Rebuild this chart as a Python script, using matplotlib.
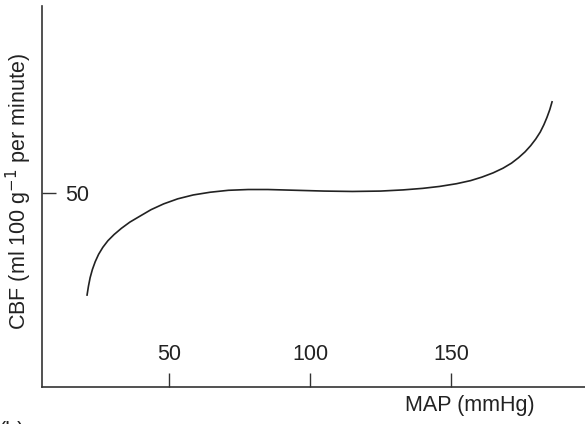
import numpy as np
import matplotlib
matplotlib.use("Agg")
import matplotlib.pyplot as plt

plt.rcParams['font.family'] = ['Liberation Sans', 'DejaVu Sans']

# === Curve (MAP in mmHg, CBF in ml/100 g/min) ===
map_mmhg = [20.8, 21.3, 21.9, 22.7, 23.7, 24.9, 26.4, 28.2, 30.4, 33.0,
            36.0, 39.5, 43.5, 48.0, 53.0, 58.5, 64.5, 71.0, 78.0, 85.0,
            95.0, 105.0, 115.0, 125.0, 133.0, 140.0, 146.0, 152.0, 157.0, 161.0,
            165.0, 168.5, 171.5, 174.0, 176.3, 178.3, 180.1, 181.7, 183.0, 184.1,
            185.1, 185.9]
cbf = [23.7, 26.0, 28.2, 30.3, 32.3, 34.2, 36.0, 37.7, 39.3, 40.9,
       42.5, 44.0, 45.7, 47.2, 48.5, 49.5, 50.2, 50.7, 50.9, 50.9,
       50.7, 50.5, 50.4, 50.5, 50.8, 51.2, 51.7, 52.4, 53.2, 54.1,
       55.2, 56.4, 57.7, 59.1, 60.6, 62.2, 63.9, 65.7, 67.6, 69.5,
       71.5, 73.5]

x_ticks = [50, 100, 150]
y_ticks = [50]

ink = '#222222'

# === Figure ===
fig = plt.figure(figsize=(5.85, 4.24), dpi=100)
ax = fig.add_axes([0.0713, 0.0873, 0.9287, 0.8985])

ax.plot(map_mmhg, cbf, color=ink, lw=1.2, solid_joinstyle='round')

ax.set_xlim(4.7, 197.6)
ax.set_ylim(0, 98.2)

for side in ['top', 'right']:
    ax.spines[side].set_visible(False)
for side in ['left', 'bottom']:
    ax.spines[side].set_color('#333333')
    ax.spines[side].set_linewidth(1.2)

ax.set_xticks(x_ticks)
ax.set_yticks(y_ticks)
ax.tick_params(axis='x', direction='in', length=10, width=1.0, colors='#333333',
               labelcolor=ink, labelsize=15.5, pad=-31)
ax.tick_params(axis='y', direction='in', length=10, width=1.0, colors='#333333',
               labelcolor=ink, labelsize=15.5, pad=-34)

# === Labels ===
fig.text(469.5 / 585, 1 - 406 / 424, 'MAP (mmHg)', ha='center', va='center',
         fontsize=15.5, color=ink)
fig.text(19 / 585, 1 - 192 / 424, 'CBF (ml 100 g$^{-1}$ per minute)', rotation=90,
         ha='center', va='center', fontsize=15.5, color=ink)
fig.text(-0.002, 1 - 421 / 424, '(b)', ha='left', va='top', fontsize=15.5, color=ink)

fig.savefig('out.png', dpi=100)
